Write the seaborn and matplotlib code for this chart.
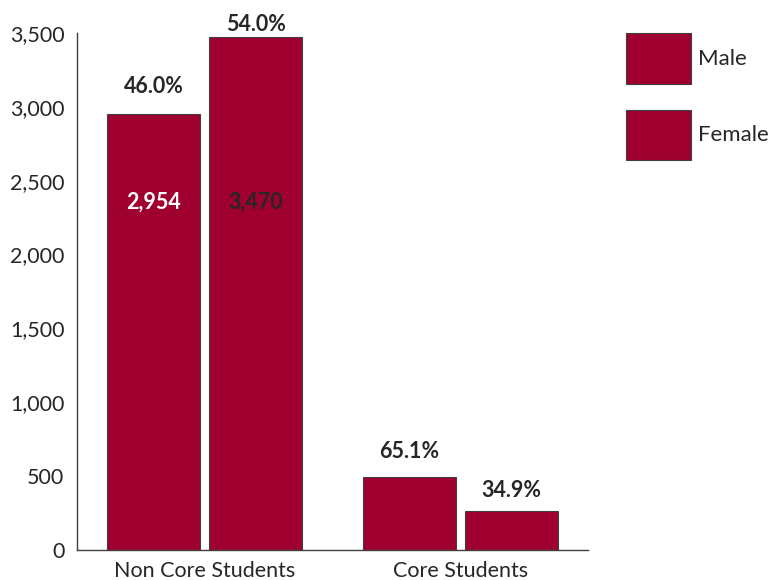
import pandas as pd
import matplotlib.pyplot as plt
import seaborn as sns
from matplotlib.patches import Patch
from matplotlib.ticker import FuncFormatter

# Data
groups = ["Non Core Students", "Core Students"]
sexes = ["Male", "Female"]
male_counts = [2954, 494]
female_counts = [3470, 265]
male_share = ["46.0%", "65.1%"]
female_share = ["54.0%", "34.9%"]

BAR_COLOR = "#A0002F"
TEXT_COLOR = "#262626"
AXIS_COLOR = "#404040"
FS = 15.5


def build_frame():
    rows = []
    for i, g in enumerate(groups):
        rows.append({"Group": g, "Sex": "Male", "Count": male_counts[i]})
        rows.append({"Group": g, "Sex": "Female", "Count": female_counts[i]})
    return pd.DataFrame(rows)


def main():
    df = build_frame()
    sns.set_style("white")
    plt.rcParams["font.family"] = ["Lato", "DejaVu Sans"]

    fig = plt.figure(figsize=(7.69, 5.80), dpi=100)
    ax = fig.add_axes([77 / 769, 30 / 580, (588 - 77) / 769, (550 - 33) / 580])

    sns.barplot(data=df, x="Group", y="Count", hue="Sex", order=groups, hue_order=sexes,
                palette={"Male": BAR_COLOR, "Female": BAR_COLOR}, width=0.8, gap=0.09,
                edgecolor=AXIS_COLOR, linewidth=0.8, saturation=1, legend=False, ax=ax)

    ax.set_ylim(0, 3500)
    ax.set_xlim(-0.5, 1.5)
    ax.set_yticks(range(0, 3501, 500))
    ax.yaxis.set_major_formatter(FuncFormatter(lambda v, p: f"{int(v):,}"))
    ax.set_xlabel("")
    ax.set_ylabel("")

    for s in ["top", "right"]:
        ax.spines[s].set_visible(False)
    for s in ["left", "bottom"]:
        ax.spines[s].set_color(AXIS_COLOR)
        ax.spines[s].set_linewidth(1.0)

    ax.tick_params(axis="y", direction="out", length=7, width=1, color=AXIS_COLOR,
                   labelsize=FS, labelcolor=TEXT_COLOR, pad=2)
    ax.tick_params(axis="x", which="major", length=0, labelsize=FS, labelcolor=TEXT_COLOR, pad=8)
    ax.set_xticks([0.5, 1.5], minor=True)
    ax.tick_params(axis="x", which="minor", direction="in", length=7, width=1, color=AXIS_COLOR)

    # percentage labels above bars (pixel offsets above bar top)
    pct_offsets = {("Male", 0): 27, ("Female", 0): 13, ("Male", 1): 26, ("Female", 1): 20}
    bars = ax.patches
    for sex_idx, sex in enumerate(sexes):
        counts = male_counts if sex == "Male" else female_counts
        shares = male_share if sex == "Male" else female_share
        for gi in range(len(groups)):
            bar = bars[sex_idx * len(groups) + gi]
            cx = bar.get_x() + bar.get_width() / 2
            ax.annotate(shares[gi], (cx, counts[gi]), xytext=(0, pct_offsets[(sex, gi)] * 0.72),
                        textcoords="offset points", ha="center", va="center",
                        fontsize=FS, fontweight="bold", color=TEXT_COLOR, annotation_clip=False)
            if gi == 0:
                ax.text(cx, 2355, f"{counts[gi]:,}", ha="center", va="center", fontsize=FS,
                        fontweight="bold", color="white" if sex == "Male" else TEXT_COLOR)

    handles = [Patch(facecolor=BAR_COLOR, edgecolor=AXIS_COLOR, linewidth=0.8, label=s) for s in sexes]
    fig.legend(handles=handles, loc="upper left", bbox_to_anchor=(626 / 769, 1 - 33 / 580),
               frameon=False, fontsize=16, handlelength=2.93, handleheight=3.13,
               labelspacing=1.17, handletextpad=0.3, borderpad=0, borderaxespad=0,
               labelcolor=TEXT_COLOR)

    fig.savefig("out.png", dpi=100)
    plt.close(fig)


if __name__ == "__main__":
    main()
